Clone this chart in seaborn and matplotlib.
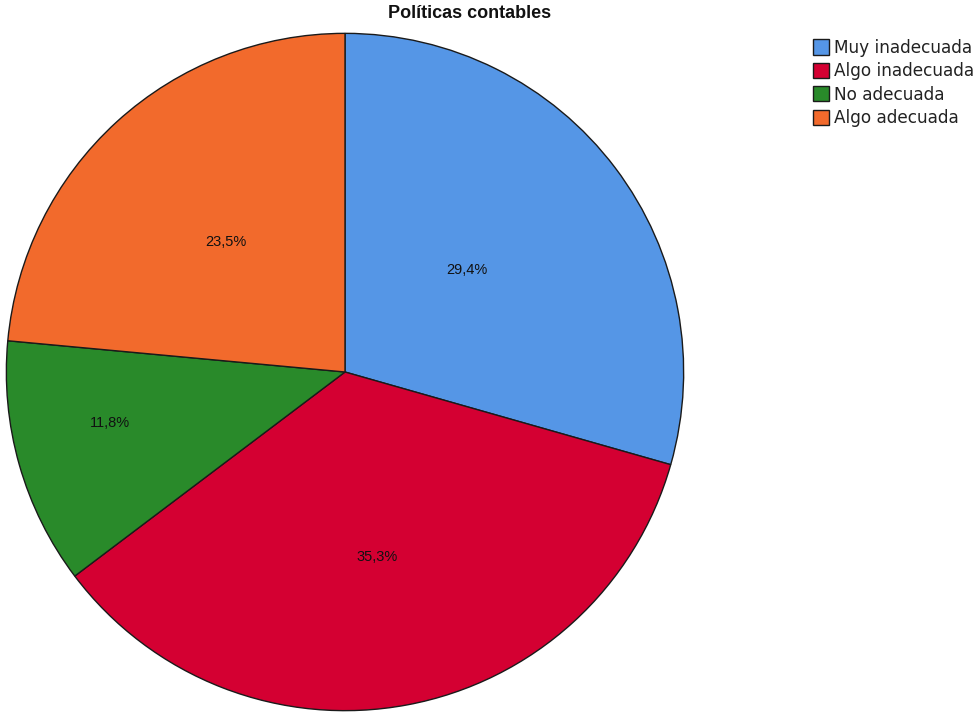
import numpy as np
import matplotlib
matplotlib.use("Agg")
import matplotlib.pyplot as plt
import seaborn as sns

categories = ["Muy inadecuada", "Algo inadecuada", "No adecuada", "Algo adecuada"]
counts = [5, 6, 2, 4]
pct_labels = ["29,4%", "35,3%", "11,8%", "23,5%"]
colors = ["#5596E6", "#D40032", "#298A2A", "#F26A2C"]

# label placement: distance from centre (fraction of radius) and angle nudge (deg)
label_radius = [0.47, 0.555, 0.71, 0.52]
label_nudge = [3.0, -0.8, -3.7, 0.0]

sns.set_theme(style="white")
plt.rcParams['font.family'] = ['Liberation Sans', 'DejaVu Sans']

fig = plt.figure(figsize=(9.76, 7.13), dpi=100)
ax = fig.add_axes([5 / 976, 1 / 713, 680 / 976, 680 / 713])

palette = sns.color_palette(colors)
wedges, _ = ax.pie(counts, colors=palette, startangle=90, counterclock=False,
                   wedgeprops=dict(edgecolor="#1a1a1a", linewidth=1.0))
ax.set_xlim(-1.004, 1.004)
ax.set_ylim(-1.004, 1.004)
ax.set_aspect("equal")

for w, lab, rr, dn in zip(wedges, pct_labels, label_radius, label_nudge):
    mid = np.deg2rad((w.theta1 + w.theta2) / 2 + dn)
    ax.text(rr * np.cos(mid), rr * np.sin(mid), lab, ha="center", va="center",
            fontsize=10.5, color="#111111")

fig.text(470 / 976, 1 - 14 / 713, "Políticas contables", ha="center", va="center",
         fontsize=13, fontweight="bold", color="#111111")

leg = fig.legend(wedges, categories, loc="upper left",
                 bbox_to_anchor=(806 / 976, 1 - 32 / 713), frameon=False,
                 fontsize=12.2, handlelength=0.95, handleheight=1.0,
                 handletextpad=0.3, labelspacing=0.32, borderaxespad=0)
for t in leg.get_texts():
    t.set_family(['DejaVu Sans'])
    t.set_color("#222222")

fig.savefig("out.png", dpi=100)
